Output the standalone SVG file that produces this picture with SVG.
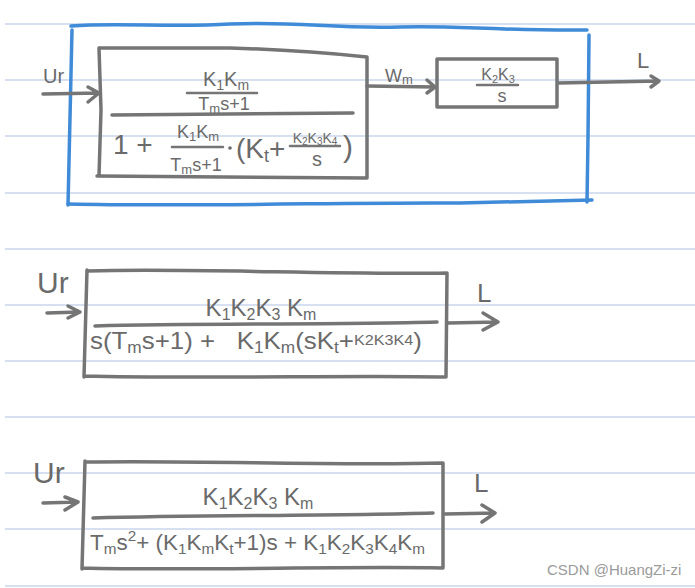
<svg xmlns="http://www.w3.org/2000/svg" width="695" height="588" viewBox="0 0 695 588">
<style>
.rule{stroke:#c9d6ec;stroke-width:1.3}
.ln{stroke:#757575;stroke-width:3.5;fill:none;stroke-linecap:round;stroke-linejoin:round}
.th{stroke:#757575;stroke-width:2.5;fill:none;stroke-linecap:round}
.bl{stroke:#3f8bd8;stroke-width:3.5;fill:none;stroke-linecap:round;stroke-linejoin:round}
.t{font-family:"Liberation Sans","DejaVu Sans",sans-serif;fill:#6a6a6a}
.wm{font-family:"Liberation Sans","DejaVu Sans",sans-serif;fill:#9a9a9a;font-size:15px}
</style>
<rect width="695" height="588" fill="#ffffff"/>
<g id="ruled-paper">
<line class="rule" x1="5" y1="24" x2="695" y2="24"/>
<line class="rule" x1="5" y1="80" x2="695" y2="80"/>
<line class="rule" x1="5" y1="136" x2="695" y2="136"/>
<line class="rule" x1="5" y1="193" x2="695" y2="193"/>
<line class="rule" x1="5" y1="249" x2="695" y2="249"/>
<line class="rule" x1="5" y1="305" x2="695" y2="305"/>
<line class="rule" x1="5" y1="361" x2="695" y2="361"/>
<line class="rule" x1="5" y1="417" x2="695" y2="417"/>
<line class="rule" x1="5" y1="473" x2="695" y2="473"/>
<line class="rule" x1="5" y1="529" x2="695" y2="529"/>
<line class="rule" x1="5" y1="586" x2="695" y2="586" stroke="#dde3ee" stroke-width="2"/>
</g>

<g id="outer-blue-box">
<path class="bl" d="M71,26 C120,22 170,28 230,24 C300,21 330,29 400,27 C450,25 500,31 587,30"/>
<path class="bl" d="M72,30 L68,205"/>
<path class="bl" d="M68,204 C200,207 350,202 460,203 L592,200"/>
<path class="bl" d="M589,35 L588,137 L587,202"/>
</g>

<g id="d1-input-label">
<text class="t" x="43" y="83" font-size="20">Ur</text>
</g>

<g id="d1-box1">
<path class="ln" d="M100,48 L230,48 Q300,50 367,57 L367,178 L97,176 M99,48 L101,110 L99,176"/>
<text class="t" x="226" y="86" font-size="20" text-anchor="middle">K<tspan dy="4" font-size="14">1</tspan><tspan dy="-4">K</tspan><tspan dy="4" font-size="14">m</tspan></text>
<path class="th" d="M187,93 L257,93"/>
<text class="t" x="224" y="110" font-size="18" text-anchor="middle">T<tspan dy="3" font-size="13">m</tspan><tspan dy="-3">s+1</tspan></text>
<path class="ln" d="M112,115 L353,113"/>
<text class="t" x="113" y="154" font-size="28">1 +</text>
<text class="t" x="198" y="138" font-size="18" text-anchor="middle">K<tspan dy="3" font-size="13">1</tspan><tspan dy="-3">K</tspan><tspan dy="3" font-size="13">m</tspan></text>
<path class="th" d="M172,147 L223,147"/>
<text class="t" x="196" y="171" font-size="18" text-anchor="middle">T<tspan dy="3" font-size="13">m</tspan><tspan dy="-3">s+1</tspan></text>
<circle cx="230" cy="148" r="1.8" fill="#6a6a6a"/>
<text class="t" x="236" y="158" font-size="28">(K<tspan dy="4" font-size="18">t</tspan><tspan dy="-4">+</tspan></text>
<text class="t" x="315" y="143" font-size="14" text-anchor="middle">K<tspan dy="2" font-size="10">2</tspan><tspan dy="-2">K</tspan><tspan dy="2" font-size="10">3</tspan><tspan dy="-2">K</tspan><tspan dy="2" font-size="10">4</tspan></text>
<path class="th" d="M290,146 L340,146"/>
<text class="t" x="317" y="166" font-size="20" text-anchor="middle">s</text>
<text class="t" x="343" y="157" font-size="30">)</text>
</g>

<g id="d1-mid-label">
<text class="t" x="385" y="82" font-size="18">W<tspan dy="2" font-size="13">m</tspan></text>
</g>

<g id="d1-box2">
<path class="ln" d="M437,59 L557,59 L557,107 L437,107 Z"/>
<text class="t" x="498" y="80" font-size="16" text-anchor="middle">K<tspan dy="3" font-size="11">2</tspan><tspan dy="-3">K</tspan><tspan dy="3" font-size="11">3</tspan></text>
<path class="th" d="M477,85 L518,85"/>
<text class="t" x="502" y="102" font-size="18" text-anchor="middle">s</text>
</g>

<g id="d1-output-label">
<text class="t" x="637" y="68" font-size="22">L</text>
</g>

<g id="d2-input-label">
<text class="t" x="37" y="293" font-size="30">Ur</text>
</g>

<g id="d2-box">
<path class="ln" d="M87,271 C200,268 330,275 447,273 L446,377 C350,375 200,379 84,376 M87,270 L84,377"/>
<text class="t" x="261" y="316" font-size="24" text-anchor="middle">K<tspan dy="4" font-size="16">1</tspan><tspan dy="-4">K</tspan><tspan dy="4" font-size="16">2</tspan><tspan dy="-4">K</tspan><tspan dy="4" font-size="16">3</tspan><tspan dy="-4"> K</tspan><tspan dy="4" font-size="16">m</tspan></text>
<path class="ln" d="M95,326 C200,323 330,325 437,322"/>
<text class="t" x="90" y="349" font-size="24" textLength="332" lengthAdjust="spacingAndGlyphs" xml:space="preserve">s(T<tspan dy="4" font-size="16">m</tspan><tspan dy="-4">s+1) +   K</tspan><tspan dy="4" font-size="16">1</tspan><tspan dy="-4">K</tspan><tspan dy="4" font-size="16">m</tspan><tspan dy="-4">(sK</tspan><tspan dy="4" font-size="16">t</tspan><tspan dy="-4">+</tspan><tspan dy="-4" font-size="15">K2K3K4</tspan><tspan dy="4">)</tspan></text>
</g>

<g id="d2-output-label">
<text class="t" x="477" y="302" font-size="26">L</text>
</g>

<g id="d3-input-label">
<text class="t" x="33" y="483" font-size="30">Ur</text>
</g>

<g id="d3-box">
<path class="ln" d="M85,462 C200,460 330,466 443,463 L443,568 C330,566 200,571 82,568 M85,461 L82,569"/>
<text class="t" x="258" y="505" font-size="24" text-anchor="middle">K<tspan dy="4" font-size="16">1</tspan><tspan dy="-4">K</tspan><tspan dy="4" font-size="16">2</tspan><tspan dy="-4">K</tspan><tspan dy="4" font-size="16">3</tspan><tspan dy="-4"> K</tspan><tspan dy="4" font-size="16">m</tspan></text>
<path class="ln" d="M93,518 C200,515 330,516 433,513"/>
<text class="t" x="90" y="550" font-size="22" textLength="335" lengthAdjust="spacingAndGlyphs" xml:space="preserve">T<tspan dy="4" font-size="15">m</tspan><tspan dy="-4">s</tspan><tspan dy="-9" font-size="15">2</tspan><tspan dy="9">+ (K</tspan><tspan dy="4" font-size="15">1</tspan><tspan dy="-4">K</tspan><tspan dy="4" font-size="15">m</tspan><tspan dy="-4">K</tspan><tspan dy="4" font-size="15">t</tspan><tspan dy="-4">+1)s + K</tspan><tspan dy="4" font-size="15">1</tspan><tspan dy="-4">K</tspan><tspan dy="4" font-size="15">2</tspan><tspan dy="-4">K</tspan><tspan dy="4" font-size="15">3</tspan><tspan dy="-4">K</tspan><tspan dy="4" font-size="15">4</tspan><tspan dy="-4">K</tspan><tspan dy="4" font-size="15">m</tspan></text>
</g>

<g id="d3-output-label">
<text class="t" x="474" y="492" font-size="26">L</text>
</g>

<g id="connectors">
<path class="ln" d="M43,94 L99,93 M88,87 L99,93 L88,102"/>
<path class="ln" d="M367,86 L435,87 M427,80 L435,87 L427,93"/>
<path class="ln" d="M558,83 L659,81 M651,76 L659,81 L651,87"/>
<path class="ln" d="M47,313 L80,312 M68,306 L80,312 L68,318"/>
<path class="ln" d="M448,323 L498,322 M483,313 L498,322 L483,330"/>
<path class="ln" d="M43,503 L78,502 M65,497 L78,502 L65,510"/>
<path class="ln" d="M445,514 L495,513 M482,505 L495,513 L482,522"/>
</g>

<text class="wm" x="547" y="575">CSDN @HuangZi-zi</text>
</svg>
